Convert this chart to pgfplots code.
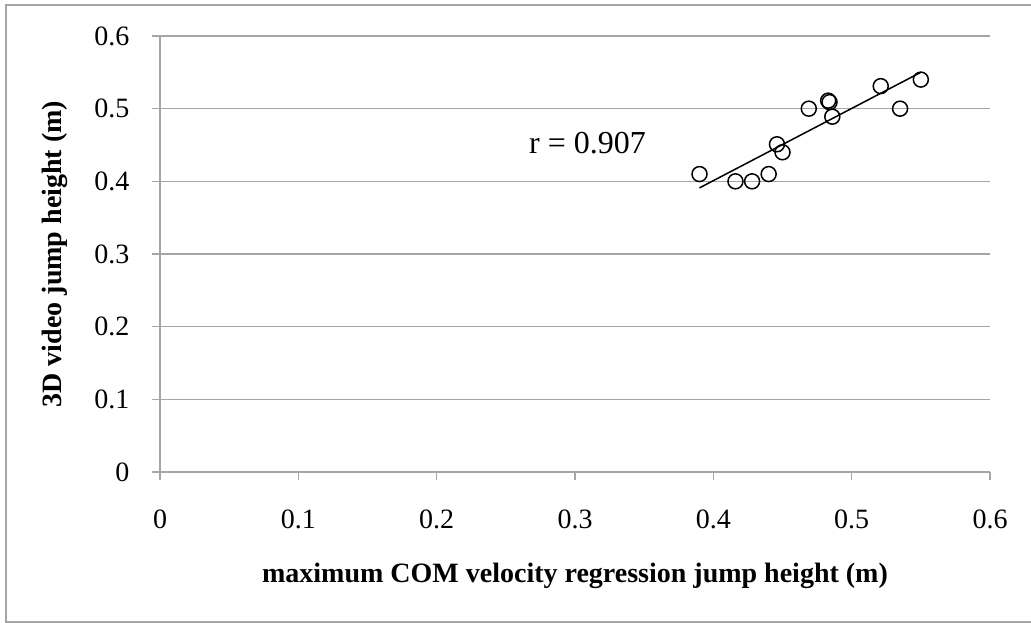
\documentclass[border=0pt]{standalone}
\usepackage{pgfplots}
\pgfplotsset{compat=1.18}
\usepackage{fontspec}
\setmainfont{Liberation Serif}
\definecolor{gridgray}{RGB}{165,165,165}
\begin{document}
\fontsize{28}{32}\selectfont
\begin{tikzpicture}[x=1pt,y=1pt]
\path[use as bounding box] (0,0) rectangle (1031,623);
\draw[gridgray,line width=1.5pt] (1032,618) -- (6,618) -- (6,1) -- (1032,1);
\begin{axis}[
  at={(160pt,151pt)}, anchor=origin,
  scale only axis, width=830pt, height=436pt,
  xmin=0, xmax=0.6, ymin=0, ymax=0.6,
  xtick={0,0.1,...,0.6}, ytick={0,0.1,...,0.6},
  axis x line=bottom, axis y line=left,
  axis line style={gridgray, line width=1.2pt, -},
  tick style={gridgray, line width=1.2pt},
  tick align=outside, major tick length=8pt,
  ymajorgrids, major grid style={gridgray, line width=1.2pt},
  /pgf/number format/assume math mode=true,
  /pgf/number format/fixed, /pgf/number format/precision=1,
  ticklabel style={font=\fontsize{28}{32}\selectfont, black},
  xticklabel style={yshift=-20pt},
  yticklabel style={xshift=-13pt},
  xlabel={\textbf{maximum COM velocity regression jump height (m)}},
  ylabel={\textbf{3D video jump height (m)}},
  label style={font=\fontsize{28}{32}\selectfont},
  xlabel style={yshift=-16pt},
  ylabel style={yshift=8pt},
  clip=false,
]
\addplot[only marks, mark=o, mark size=7.5pt, mark options={line width=1.5pt, draw=black}] coordinates {
 (0.390,0.410) (0.416,0.400) (0.428,0.400) (0.440,0.410) (0.446,0.451)
 (0.450,0.440) (0.469,0.500) (0.483,0.511) (0.484,0.509) (0.486,0.489)
 (0.521,0.531) (0.535,0.500) (0.550,0.540)
};
\addplot[black, line width=1.5pt] coordinates {(0.390,0.391) (0.550,0.550)};
\node[font=\fontsize{32}{36}\selectfont] at (axis cs:0.309,0.452) {r = 0.907};
\end{axis}
\end{tikzpicture}
\end{document}
